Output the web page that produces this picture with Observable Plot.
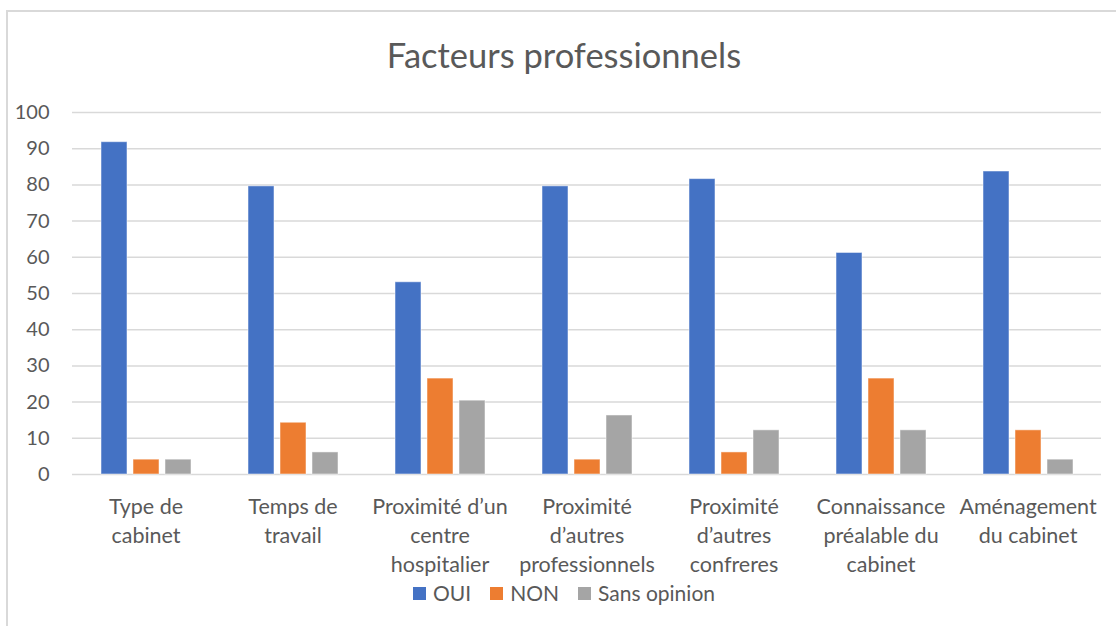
<!DOCTYPE html>
<html>
<head>
<meta charset="utf-8">
<script src="https://cdn.jsdelivr.net/npm/d3@7"></script>
<script src="https://cdn.jsdelivr.net/npm/@observablehq/plot@0.6"></script>
<style>
  html, body { margin: 0; padding: 0; background: #fff; }
  #wrap { position: relative; width: 1116px; height: 626px; overflow: hidden; font-family: Lato, "Open Sans", sans-serif; color: #595959; }
  #frame { position: absolute; left: 6px; top: 10px; width: 1200px; height: 700px; border: 2px solid #d9d9d9; box-sizing: border-box; }
  #title { position: absolute; left: 0; top: 33px; width: 1128px; text-align: center; font-size: 34.5px; line-height: 44px; color: #595959; }
  #chart { position: absolute; left: 0; top: 0; }
  #legend { position: absolute; left: 413px; top: 579px; display: flex; align-items: center; font-size: 21px; line-height: 28px; color: #595959; }
  #legend .item { display: flex; align-items: center; margin-right: 19px; }
  #legend .sw { width: 13px; height: 13px; margin-right: 7px; }
</style>
</head>
<body>
<div id="wrap">
  <div id="frame"></div>
  <div id="chart"></div>
  <div id="title">Facteurs professionnels</div>
  <div id="legend"></div>
</div>
<script>
const categories = ["Type de cabinet", "Temps de travail", "Proximité d’un centre hospitalier", "Proximité d’autres professionnels", "Proximité d’autres confreres", "Connaissance préalable du cabinet", "Aménagement du cabinet"];
const categoryLabels = ["Type de\ncabinet", "Temps de\ntravail", "Proximité d’un\ncentre\nhospitalier", "Proximité\nd’autres\nprofessionnels", "Proximité\nd’autres\nconfreres", "Connaissance\npréalable du\ncabinet", "Aménagement\ndu cabinet"];
const series = ["OUI", "NON", "Sans opinion"];
const seriesColors = ["#4472C4", "#ED7D31", "#A5A5A5"];
const oui = [91.8, 79.6, 53.1, 79.6, 81.6, 61.2, 83.7];
const non = [4.1, 14.3, 26.5, 4.1, 6.1, 26.5, 12.2];
const sansOpinion = [4.1, 6.1, 20.4, 16.3, 12.2, 12.2, 4.1];
const yTicks = [0, 10, 20, 30, 40, 50, 60, 70, 80, 90, 100];

const valuesBySeries = [oui, non, sansOpinion];
const data = [];
categories.forEach((c, i) => {
  series.forEach((s, j) => data.push({category: c, series: s, value: valuesBySeries[j][i]}));
});
const labelOf = new Map(categories.map((c, i) => [c, categoryLabels[i]]));

const plot = Plot.plot({
  width: 1116,
  height: 626,
  marginTop: 112,
  marginBottom: 152,
  marginLeft: 70,
  marginRight: 13,
  style: {fontFamily: "Lato, 'Open Sans', sans-serif", fontSize: "20px", color: "#595959", background: "transparent"},
  fx: {domain: categories, paddingInner: 0, paddingOuter: 0},
  x: {domain: series, paddingInner: 0.2, paddingOuter: 0.87, axis: null},
  y: {domain: [0, 100]},
  color: {domain: series, range: seriesColors},
  marks: [
    Plot.ruleY(yTicks, {stroke: "#d9d9d9", strokeWidth: 1.5}),
    Plot.barY(data, {fx: "category", x: "series", y: "value", fill: "series", stroke: "white", strokeOpacity: 0.5, strokeWidth: 1}),
    Plot.axisY({ticks: yTicks, tickSize: 0, tickPadding: 23, fontSize: 20, fill: "#595959", label: null}),
    Plot.axisFx({anchor: "bottom", tickSize: 0, tickPadding: 19, fontSize: 21.5, fill: "#595959", lineHeight: 1.35, label: null, tickFormat: (d) => labelOf.get(d)})
  ]
});
document.getElementById("chart").appendChild(plot);

const legend = document.getElementById("legend");
series.forEach((s, i) => {
  const item = document.createElement("div");
  item.className = "item";
  const sw = document.createElement("span");
  sw.className = "sw";
  sw.style.background = seriesColors[i];
  const t = document.createElement("span");
  t.textContent = s;
  item.appendChild(sw);
  item.appendChild(t);
  legend.appendChild(item);
});
</script>
</body>
</html>
